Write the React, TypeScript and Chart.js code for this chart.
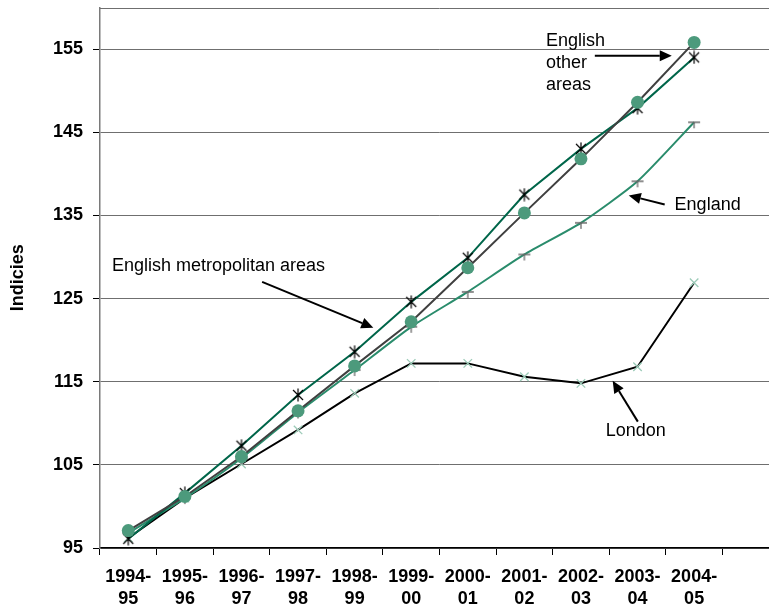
import React, { useEffect, useRef } from 'react';
import { Chart, registerables } from 'chart.js';

Chart.register(...registerables);

// ---- data ----
const categories: (string | string[])[] = [
  ['1994-', '95'], ['1995-', '96'], ['1996-', '97'], ['1997-', '98'], ['1998-', '99'],
  ['1999-', '00'], ['2000-', '01'], ['2001-', '02'], ['2002-', '03'], ['2003-', '04'],
  ['2004-', '05'], '',
];
const yTicks = [95, 105, 115, 125, 135, 145, 155];
const yMin = 95;
const yMax = 160;

const englishOtherAreas = [97.1, 101.2, 106.0, 111.5, 116.9, 122.2, 128.7, 135.3, 141.8, 148.6, 155.8];
const englishMetropolitanAreas = [96.1, 101.6, 107.3, 113.4, 118.6, 124.6, 129.9, 137.5, 143.0, 147.9, 154.0];
const england = [96.8, 101.0, 105.8, 111.3, 116.4, 121.6, 125.8, 130.3, 134.1, 139.1, 146.2];
const london = [96.2, 101.0, 105.1, 109.2, 113.6, 117.2, 117.2, 115.6, 114.8, 116.8, 126.9];

// annotation texts and anchor positions in data units (category index, value)
const annotations = [
  { lines: ['English', 'other', 'areas'], x: 7.38, y: 156.0, align: 'left', from: [8.245, 154.2], to: [9.605, 154.2] },
  { lines: ['England'], x: 9.655, y: 136.3, align: 'left', from: [9.48, 136.3], to: [8.845, 137.4] },
  { lines: ['English metropolitan areas'], x: -0.288, y: 128.95, align: 'left', from: [2.365, 127.0], to: [4.33, 121.5] },
  { lines: ['London'], x: 8.97, y: 109.1, align: 'center', from: [9.005, 110.2], to: [8.56, 115.1] },
];

const FONT = '"Liberation Sans", Arial, sans-serif';
const FS = 18;
const GRID = '#6f6f6f';

function makeStar(): HTMLCanvasElement {
  const c = document.createElement('canvas');
  c.width = 14; c.height = 14;
  const g = c.getContext('2d')!;
  g.strokeStyle = '#000';
  g.lineWidth = 1.2;
  g.beginPath();
  g.moveTo(2, 2); g.lineTo(12, 12);
  g.moveTo(12, 2); g.lineTo(2, 12);
  g.moveTo(7, 0.5); g.lineTo(7, 13.5);
  g.stroke();
  return c;
}

function makeTee(): HTMLCanvasElement {
  const c = document.createElement('canvas');
  c.width = 14; c.height = 14;
  const g = c.getContext('2d')!;
  g.strokeStyle = '#6a6a6a';
  g.lineWidth = 1.3;
  g.beginPath();
  g.moveTo(1, 7); g.lineTo(13, 7);
  g.moveTo(7, 7); g.lineTo(7, 13);
  g.stroke();
  return c;
}

function drawArrow(ctx: CanvasRenderingContext2D, x1: number, y1: number, x2: number, y2: number) {
  const ang = Math.atan2(y2 - y1, x2 - x1);
  const hl = 12, hw = 5.5;
  const bx = x2 - hl * Math.cos(ang);
  const by = y2 - hl * Math.sin(ang);
  ctx.save();
  ctx.strokeStyle = '#000';
  ctx.fillStyle = '#000';
  ctx.lineWidth = 2;
  ctx.beginPath();
  ctx.moveTo(x1, y1);
  ctx.lineTo(bx, by);
  ctx.stroke();
  ctx.beginPath();
  ctx.moveTo(x2, y2);
  ctx.lineTo(bx + hw * Math.sin(ang), by - hw * Math.cos(ang));
  ctx.lineTo(bx - hw * Math.sin(ang), by + hw * Math.cos(ang));
  ctx.closePath();
  ctx.fill();
  ctx.restore();
}

const annotationPlugin = {
  id: 'annots',
  beforeDatasetsDraw(chart: any) {
    const { ctx, chartArea } = chart;
    ctx.save();
    ctx.strokeStyle = GRID;
    ctx.lineWidth = 1;
    ctx.beginPath();
    ctx.moveTo(chartArea.left, Math.round(chartArea.top) + 0.5);
    ctx.lineTo(chartArea.right, Math.round(chartArea.top) + 0.5);
    ctx.stroke();
    ctx.restore();
  },
  afterDatasetsDraw(chart: any) {
    const { ctx } = chart;
    const xs = chart.scales.x;
    const ys = chart.scales.y;
    ctx.save();
    ctx.font = `${FS}px ${FONT}`;
    ctx.fillStyle = '#000';
    ctx.textBaseline = 'middle';
    for (const a of annotations) {
      const px = xs.getPixelForValue(a.x);
      const py = ys.getPixelForValue(a.y);
      ctx.textAlign = a.align as CanvasTextAlign;
      a.lines.forEach((l, i) => ctx.fillText(l, px, py + i * 22));
      drawArrow(
        ctx,
        xs.getPixelForValue(a.from[0]), ys.getPixelForValue(a.from[1]),
        xs.getPixelForValue(a.to[0]), ys.getPixelForValue(a.to[1]),
      );
    }
    ctx.restore();
  },
};

export default function App() {
  const ref = useRef<HTMLCanvasElement | null>(null);

  useEffect(() => {
    if (!ref.current) return;
    const star = makeStar();
    const tee = makeTee();
    const chart = new Chart(ref.current, {
      type: 'line',
      data: {
        labels: categories as any,
        datasets: [
          {
            label: 'English other areas',
            data: englishOtherAreas,
            borderColor: '#404040',
            borderWidth: 2,
            pointStyle: 'circle',
            pointRadius: 6.5,
            pointBackgroundColor: '#4c9a7c',
            pointBorderColor: '#4c9a7c',
            pointBorderWidth: 0,
            tension: 0,
          },
          {
            label: 'English metropolitan areas',
            data: englishMetropolitanAreas,
            borderColor: '#00664a',
            borderWidth: 2,
            pointStyle: star as any,
            tension: 0,
          },
          {
            label: 'England',
            data: england,
            borderColor: '#2a8c6c',
            borderWidth: 2,
            pointStyle: tee as any,
            tension: 0.2,
          },
          {
            label: 'London',
            data: london,
            borderColor: '#000000',
            borderWidth: 2,
            pointStyle: 'crossRot',
            pointRadius: 6,
            pointBorderColor: '#9ccbb8',
            pointBorderWidth: 1.3,
            tension: 0,
          },
        ],
      },
      options: {
        animation: false,
        responsive: false,
        devicePixelRatio: 1,
        layout: { padding: { top: 7.5, left: 0, right: 11, bottom: 0 } },
        plugins: {
          legend: { display: false },
          tooltip: { enabled: false },
        },
        scales: {
          x: {
            type: 'category',
            offset: true,
            grid: {
              offset: true,
              drawOnChartArea: false,
              drawTicks: true,
              tickLength: 7,
              tickColor: '#000',
              tickWidth: 1,
            },
            border: { display: true, color: '#000', width: 1.5 },
            ticks: {
              color: '#000',
              padding: 11,
              maxRotation: 0,
              autoSkip: false,
              font: { family: FONT, size: FS, weight: 'bold', lineHeight: 22 / FS },
            },
            afterFit: (s: any) => {
              s.height = 57;
              s.paddingLeft = 0;
              s.paddingRight = 0;
            },
          },
          y: {
            min: yMin,
            max: yMax,
            afterBuildTicks: (s: any) => {
              s.ticks = yTicks.map((v) => ({ value: v }));
            },
            grid: {
              color: GRID,
              lineWidth: 1,
              tickLength: 7,
              tickColor: '#000',
            },
            border: { display: true, color: '#7a7a7a', width: 1.5 },
            ticks: {
              color: '#000',
              padding: 10,
              font: { family: FONT, size: FS, weight: 'bold' },
            },
            title: {
              display: true,
              text: 'Indicies',
              color: '#000',
              font: { family: FONT, size: FS, weight: 'bold' },
              padding: { top: 7, bottom: 0 },
            },
            afterFit: (s: any) => {
              s.width = 100;
              s.paddingTop = 0;
              s.paddingBottom = 0;
            },
          },
        },
      },
      plugins: [annotationPlugin],
    });
    return () => chart.destroy();
  }, []);

  return (
    <div
      style={{
        position: 'fixed',
        left: 0,
        top: 0,
        width: 769,
        height: 605,
        overflow: 'hidden',
        background: '#fff',
      }}
    >
      <canvas ref={ref} width={790} height={605} style={{ display: 'block' }} />
    </div>
  );
}
